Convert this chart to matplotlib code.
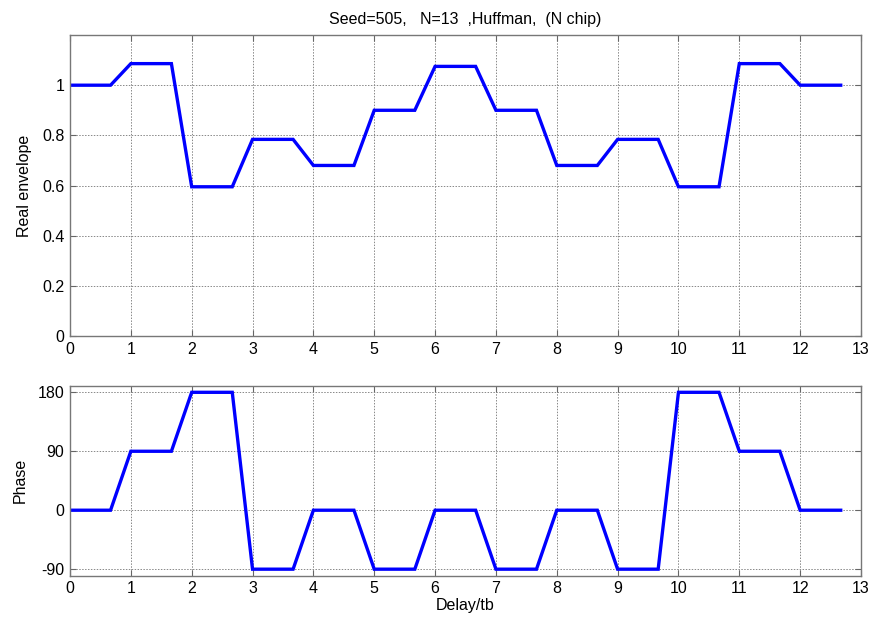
import numpy as np
import matplotlib
matplotlib.use("Agg")
import matplotlib.pyplot as plt

plt.rcParams['font.family'] = ['Liberation Sans', 'DejaVu Sans']
plt.rcParams['axes.unicode_minus'] = False

# Chip amplitudes and phases (degrees) of the 13-chip Huffman code
amplitude = [1.0, 1.086, 0.595, 0.784, 0.68, 0.9, 1.075, 0.9, 0.68, 0.784, 0.595, 1.086, 1.0]
phase_deg = [0, 90, 180, -90, 0, -90, 0, -90, 0, -90, 180, 90, 0]
flat_frac = 2.0 / 3.0   # fraction of each chip held flat before the ramp to the next one

x_ticks = list(range(0, 14))
env_ticks = [0, 0.2, 0.4, 0.6, 0.8, 1]
env_ticklabels = ['0', '0.2', '0.4', '0.6', '0.8', '1']
phase_ticks = [-90, 0, 90, 180]


def envelope_path(values):
    """Piecewise linear trace: hold each chip value, then ramp to the next chip start."""
    xs, ys = [], []
    for k, v in enumerate(values):
        xs += [k, k + flat_frac]
        ys += [v, v]
    return np.array(xs), np.array(ys)


fig = plt.figure(figsize=(8.75, 6.18), dpi=100)
ax1 = fig.add_axes([0.080, 0.4563, 0.904, 0.487])
ax2 = fig.add_axes([0.080, 0.0684, 0.904, 0.3074])

line_kw = dict(color='#0000ff', linewidth=2.4, solid_joinstyle='miter')

x, y = envelope_path(amplitude)
ax1.plot(x, y, **line_kw)
x, y = envelope_path(phase_deg)
ax2.plot(x, y, **line_kw)

for ax in (ax1, ax2):
    ax.set_xlim(0, 13)
    ax.set_xticks(x_ticks)
    ax.grid(True, linestyle=(0, (1.5, 1.5)), color='#888888', linewidth=0.7)
    ax.tick_params(direction='in', length=4, labelsize=11.5, color='#666666',
                   top=True, right=True, pad=4)
    for s in ax.spines.values():
        s.set_color('#777777')
        s.set_linewidth(1.0)

ax1.set_ylim(0, 1.2)
ax1.set_yticks(env_ticks)
ax1.set_yticklabels(env_ticklabels)
ax1.set_ylabel('Real envelope', fontsize=11.5, labelpad=7)
ax1.set_title('Seed=505,   N=13  ,Huffman,  (N chip)', fontsize=11.5, pad=8)

ax2.set_ylim(-100, 190)
ax2.set_yticks(phase_ticks)
ax2.set_ylabel('Phase', fontsize=11.5, labelpad=7)
ax2.set_xlabel('Delay/tb', fontsize=11.5, labelpad=1)

fig.savefig('out.png', dpi=100)
